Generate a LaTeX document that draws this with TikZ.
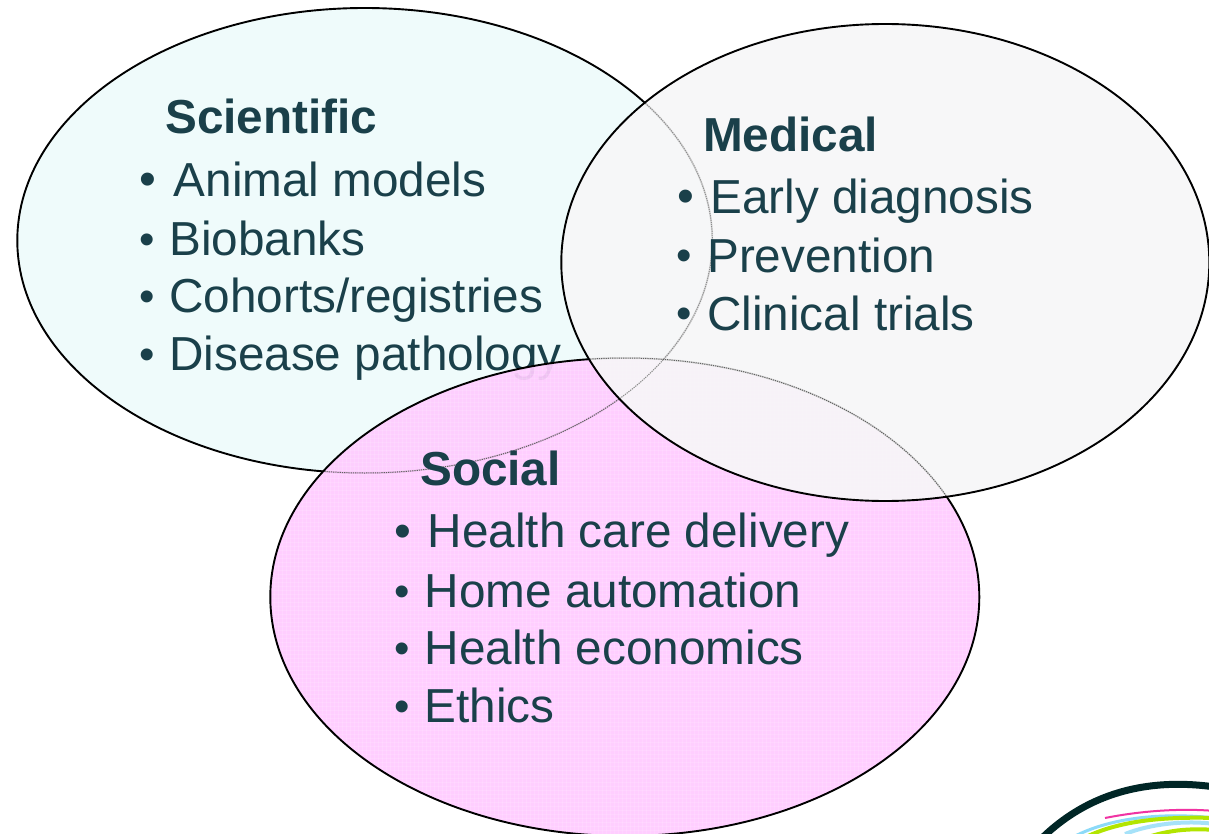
\documentclass[tikz,border=0pt]{standalone}
\usepackage{fontspec}
\setmainfont{Liberation Sans}
\definecolor{inkc}{HTML}{1A404A}
\definecolor{scifill}{HTML}{EFFBFB}
\definecolor{socfill}{HTML}{FFCBFF}
\definecolor{medfill}{HTML}{F7F7F8}
\tikzset{
  itemtxt/.style={anchor=base west,inner sep=0pt,text=inkc,font=\fontsize{47.7}{47.7}\selectfont},
  headtxt/.style={anchor=base west,inner sep=0pt,text=inkc,font=\fontsize{47.7}{47.7}\selectfont\bfseries},
  bul/.style={anchor=base west,inner sep=0pt,text=inkc,font=\fontsize{44}{44}\selectfont},
  bulbig/.style={bul,font=\fontsize{48}{48}\selectfont},
  faint/.style={draw=black!62,line width=1pt,dash pattern=on 1.2pt off 1pt},
  outl/.style={draw=black,line width=1.9pt}
}
\def\pathSci{(364.8,240.5) ellipse [x radius=347.5,y radius=232.5]}
\def\pathSoc{(624.8,597) ellipse [x radius=354.5,y radius=239]}
\def\pathMed{(885.3,262.5) ellipse [x radius=324,y radius=238.5]}
\begin{document}
\begin{tikzpicture}[x=1pt,y=-1pt]
\useasboundingbox (0,0) rectangle (1209,834);
\fill[white] (0,0) rectangle (1209,834);
% Scientific
\fill[scifill] \pathSci;
\draw[outl] \pathSci;
\node[headtxt] (sh) at (165,133.2) {Scientific};
\node[bulbig] (sb1) at (139.5,195.5) {•};
\node[itemtxt] (s1) at (173.5,196.3) {Animal models};
\node[bul] (sb2) at (139.5,254.5) {•};
\node[itemtxt] (s2) at (169,255.4) {Biobanks};
\node[bul] (sb3) at (139.5,311) {•};
\node[itemtxt] (s3) at (169,312) {Cohorts/registries};
\node[bul] (sb4) at (139.5,369) {•};
\node[itemtxt] (s4) at (169,370) {Disease pathology};
% Social
\fill[socfill,fill opacity=.93] \pathSoc;
\begin{scope}
\clip \pathSoc;
\foreach \i in {0,...,180}{\draw[white,opacity=.13,line width=1pt] (270+4*\i,350) -- (270+4*\i,834);}
\foreach \i in {0,...,122}{\draw[white,opacity=.13,line width=1pt] (270,350+4*\i) -- (980,350+4*\i);}
\draw[faint] \pathSci;
\end{scope}
\draw[outl] \pathSoc;
% Medical
\fill[medfill,fill opacity=.9] \pathMed;
\begin{scope}
\clip \pathMed;
\draw[faint,draw=black!45] \pathSci;
\draw[faint] \pathSoc;
\end{scope}
\draw[outl] \pathMed;
\node[headtxt] (mh) at (703,151.3) {Medical};
\node[bulbig] (mb1) at (677.5,213) {•};
\node[itemtxt] (m1) at (710,213.7) {Early diagnosis};
\node[bul] (mb2) at (676.5,270) {•};
\node[itemtxt] (m2) at (707,272.2) {Prevention};
\node[bul] (mb3) at (676.5,328) {•};
\node[itemtxt] (m3) at (707,330.2) {Clinical trials};
\node[headtxt] (ah) at (420,485.2) {Social};
\node[bulbig] (ab1) at (394.5,547) {•};
\node[itemtxt] (a1) at (427.5,547.8) {Health care delivery};
\node[bul] (ab2) at (394.5,606) {•};
\node[itemtxt] (a2) at (424.5,607.3) {Home automation};
\node[bul] (ab3) at (394.5,663) {•};
\node[itemtxt] (a3) at (424.5,664.3) {Health economics};
\node[bul] (ab4) at (394.5,721) {•};
\node[itemtxt] (a4) at (424.5,722.3) {Ethics};
% logo corner
\begin{scope}
\clip (1000,760) rectangle (1209,834);
\draw[cyan!45,line width=3pt] (1068,840) .. controls (1105,818) and (1160,812) .. (1215,818);
\draw[magenta!80!white,line width=2pt] (1105,818) .. controls (1140,811) and (1180,808) .. (1215,811);
\draw[lime!80!olive,line width=4pt] (1080,840) .. controls (1110,824) and (1150,816) .. (1215,818);
\draw[cyan!35,line width=4pt] (1125,834) .. controls (1150,824) and (1185,820) .. (1215,824);
\draw[lime!80!olive,line width=4pt] (1140,840) .. controls (1165,830) and (1190,828) .. (1215,830);
\draw[black!70!teal,line width=7pt] (1040,840) .. controls (1075,805) and (1130,775) .. (1215,787);
\end{scope}
\end{tikzpicture}
\end{document}
